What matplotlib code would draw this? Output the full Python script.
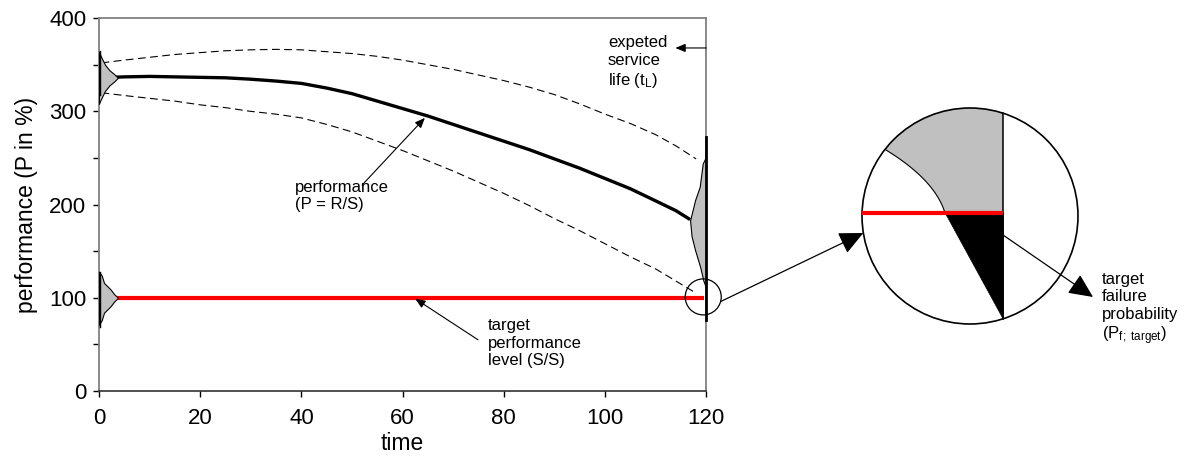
import numpy as np
import matplotlib
matplotlib.use("Agg")
import matplotlib.pyplot as plt
from matplotlib.patches import Circle, Polygon
from matplotlib.ticker import MultipleLocator

plt.rcParams["font.family"] = ["Liberation Sans", "DejaVu Sans"]
plt.rcParams["mathtext.fontset"] = "custom"
plt.rcParams["mathtext.rm"] = "Liberation Sans"
plt.rcParams["mathtext.it"] = "Liberation Sans"

# mean performance P = R/S over time
time = [0, 5, 10, 15, 20, 25, 30, 35, 40, 45, 50, 55, 60, 65, 70, 75, 80, 85, 90,
        95, 100, 105, 110, 114, 116.8]
perf = [336, 337, 337.5, 337, 336.5, 336, 334.5, 332.5, 330, 325, 319, 311, 303, 295,
        286, 277, 268, 259, 249, 239, 228, 217, 204, 193.5, 184]

# scatter band (dashed)
band_time = [0.5, 5, 10, 15, 20, 25, 30, 35, 40, 45, 50, 55, 60, 65, 70, 75, 80, 85,
             90, 95, 100, 105, 110, 114, 118]
band_upper = [352, 355, 358, 361, 363, 365, 366, 366.5, 366, 364, 362, 359, 355, 350,
              345, 339, 333, 326, 318, 308, 297, 287, 275, 263, 249]
band_lower = [320, 317, 314, 311, 307, 304, 300, 297, 293, 286, 278, 268, 258, 247,
              236, 224, 212, 199, 185, 172, 158, 144, 131, 118, 105]

target_level = 100
service_life = 120

# distribution shapes (offset in P, width in time units)
start_offsets = [-28, -24, -20, -14, -8, -4, 0, 4, 8, 14, 20, 24, 28]
start_widths = [0, 0.3, 0.65, 1.2, 2.1, 3.0, 3.75, 3.0, 2.1, 1.2, 0.65, 0.3, 0]
start_mean = 336
start_base = (318, 365)

target_offsets = [-29, -24, -16, -9, -4, 0, 4, 9, 16, 24, 28]
target_widths = [0, 0.55, 1.0, 2.3, 3.0, 3.75, 3.0, 2.3, 1.0, 0.55, 0]
target_base = (69, 128)

end_P = [110, 119, 133, 151, 166, 183, 205, 219, 244, 252]
end_widths = [0, 0.6, 1.2, 2.2, 2.9, 3.2, 2.2, 1.3, 0.7, 0]
end_base = (76, 272)

# zoom-in circle (figure pixels)
zoom_spot = (119.4, 101)
small_r = 18
big_c = (970, 216)
big_r = 108
cut_x = 1003
target_y = 213
curve_pts = [(886, 150), (935, 180), (945, 213)]

fig = plt.figure(figsize=(11.85, 4.65), dpi=100)
ax = fig.add_axes([0.0835, 0.159, 0.5125, 0.802])

ax.plot(band_time, band_upper, color="black", lw=0.8, ls=(0, (7, 4)))
ax.plot(band_time, band_lower, color="black", lw=0.8, ls=(0, (7, 4)))
ax.plot(time, perf, color="black", lw=2.4, solid_capstyle="butt")
ax.plot([0, 119.5], [target_level, target_level], color="red", lw=3, solid_capstyle="butt")

gray = "#c0c0c0"
ax.fill_betweenx(np.array(start_offsets) + start_mean, 0, start_widths,
                 facecolor=gray, edgecolor="black", lw=0.8, zorder=3)
ax.fill_betweenx(np.array(target_offsets) + target_level, 0, target_widths,
                 facecolor=gray, edgecolor="black", lw=0.8, zorder=3)
ax.fill_betweenx(end_P, service_life - np.array(end_widths), service_life,
                 facecolor=gray, edgecolor="black", lw=0.8, zorder=3)
ax.plot([0.15, 0.15], start_base, color="black", lw=1, zorder=4, clip_on=False)
ax.plot([0.15, 0.15], target_base, color="black", lw=1, zorder=4, clip_on=False)
ax.plot([service_life, service_life], end_base, color="black", lw=2, zorder=4, clip_on=False)

ax.set_xlim(0, 120)
ax.set_ylim(0, 400)
ax.xaxis.set_major_locator(MultipleLocator(20))
ax.yaxis.set_major_locator(MultipleLocator(100))
ax.yaxis.set_minor_locator(MultipleLocator(50))
ax.tick_params(axis="y", which="both", direction="out", length=4, width=1, labelsize=16, pad=5)
ax.tick_params(axis="x", direction="out", length=4, width=1, labelsize=16, pad=8)
for s in ["left", "right", "top"]:
    ax.spines[s].set_color("#808080")
    ax.spines[s].set_linewidth(1.3)
ax.spines["bottom"].set_color("#222222")
ax.spines["bottom"].set_linewidth(1.1)
ax.set_xlabel("time", fontsize=16.5, labelpad=2)
ax.set_ylabel("performance (P in %)", fontsize=16.5, labelpad=8)

small_arrow = dict(arrowstyle="-|>,head_length=0.6,head_width=0.25", color="black",
                   lw=0.8, mutation_scale=10, shrinkA=0, shrinkB=0)
ax.annotate("", xy=(113.9, 368), xytext=(120, 368), arrowprops=small_arrow)
ax.text(100.6, 382, "expeted\nservice\nlife (t$_\\mathrm{L}$)", fontsize=12,
        ha="left", va="top", linespacing=1.25)
ax.annotate("", xy=(64.4, 293), xytext=(52, 221), arrowprops=small_arrow)
ax.text(38.7, 226, "performance\n(P = R/S)", fontsize=12, ha="left", va="top", linespacing=1.15)
ax.annotate("", xy=(62.5, 99), xytext=(74.9, 55), arrowprops=small_arrow)
ax.text(76.9, 78, "target\nperformance\nlevel (S/S)", fontsize=12, ha="left", va="top",
        linespacing=1.2)

# overlay in figure pixels for the zoom-in view
ov = fig.add_axes([0, 0, 1, 1], zorder=5)
ov.set_xlim(0, 1185)
ov.set_ylim(465, 0)
ov.axis("off")
ov.patch.set_alpha(0)

fig.canvas.draw()
disp = ax.transData.transform(zoom_spot)
sc = ov.transData.inverted().transform(disp)
ov.add_patch(Circle(sc, small_r, fill=False, ec="black", lw=0.9))

cx, cy = big_c
ang0 = np.deg2rad(15)
start = (sc[0] + small_r * np.cos(ang0), sc[1] + small_r * np.sin(ang0))
ty = 233
tip = (cx - np.sqrt(big_r ** 2 - (ty - cy) ** 2), ty)
big_arrow = dict(arrowstyle="-|>,head_length=0.75,head_width=0.35", color="black",
                 lw=0.9, mutation_scale=20, shrinkA=0, shrinkB=0)
ov.annotate("", xy=tip, xytext=start, arrowprops=big_arrow)

# gray region: arc, cut line, target line, curve
dx_top = cut_x - cx
y_top = cy - np.sqrt(big_r ** 2 - dx_top ** 2)
y_bot = cy + np.sqrt(big_r ** 2 - dx_top ** 2)
t0 = np.arctan2(curve_pts[0][1] - cy, curve_pts[0][0] - cx)
t1 = np.arctan2(y_top - cy, dx_top)
tt = np.linspace(t0, t1, 60)
arc = np.column_stack([cx + big_r * np.cos(tt), cy + big_r * np.sin(tt)])
p0, p1, p2 = [np.array(p) for p in curve_pts]
u = np.linspace(0, 1, 30)[:, None]
bez = (1 - u) ** 2 * p0 + 2 * (1 - u) * u * p1 + u ** 2 * p2
ov.add_patch(Polygon(np.vstack([arc, [[cut_x, target_y]], bez[::-1]]), closed=True,
                     facecolor=gray, edgecolor="none"))
ov.plot(bez[:, 0], bez[:, 1], color="black", lw=0.8)
ov.add_patch(Polygon([curve_pts[2], (cut_x, target_y), (cut_x, y_bot)], closed=True,
                     facecolor="black", edgecolor="black", lw=0.5))
ov.add_patch(Circle(big_c, big_r, fill=False, ec="black", lw=1.2))
ov.plot([cut_x, cut_x], [y_top, y_bot], color="black", lw=1.1)
ov.plot([cx - big_r, cut_x], [target_y, target_y], color="red", lw=3, solid_capstyle="butt")

ov.annotate("", xy=(1093, 297), xytext=(cut_x, 235), arrowprops=big_arrow)
ov.text(1102, 272, "target\nfailure\nprobability\n(P$_\\mathrm{f;\\ target}$)", fontsize=12,
        ha="left", va="top", linespacing=1.2)

fig.savefig("out.png", dpi=100)
